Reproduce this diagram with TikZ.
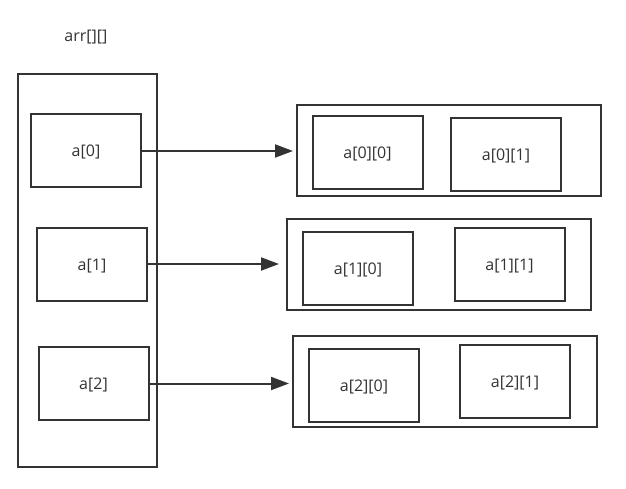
\documentclass[tikz,border=0pt]{standalone}
\usepackage{fontspec}
\setmainfont{Open Sans}
\usepackage{tikz}
\usetikzlibrary {arrows.meta}
\newcommand\cellW{110pt}
\newcommand\cellH{73pt}
\newcommand\rowW{304pt}
\newcommand\rowH{91pt}
\newcommand\lineColor{black!80}
\newcommand\labelSize{\fontsize{16}{18}\selectfont}

\begin{document}
\begin{tikzpicture}[x=1pt, y=-1pt,
        box/.style={draw=\lineColor, line width=2pt, inner sep=0pt},
        cell/.style={box, minimum width=\cellW, minimum height=\cellH, text=black!80, font=\labelSize, text height=14pt, text depth=2pt},
        rowbox/.style={box, minimum width=\rowW, minimum height=\rowH},
        pointer/.style={draw=\lineColor, line width=2pt, -{Triangle[length=18pt, width=13pt]}}]
        \useasboundingbox (0,0) rectangle (626,489);

        \node[text=black!80, font=\labelSize] (title) at (86,37) {arr[][]};
        \node[box, minimum width=139pt, minimum height=393pt] (arr) at (87.5,270.5) {};

        \node[cell] (a0) at (86,151) {a[0]};
        \node[cell] (a1) at (92,264) {a[1]};
        \node[cell] (a2) at (93.5,383.5) {a[2]};

        \node[rowbox] (row0) at (449,151) {};
        \node[cell] (a00) at (367.5,152.5) {a[0][0]};
        \node[cell] (a01) at (506,154.5) {a[0][1]};

        \node[rowbox] (row1) at (439,264.5) {};
        \node[cell] (a10) at (358,268) {a[1][0]};
        \node[cell] (a11) at (509.5,264) {a[1][1]};

        \node[rowbox] (row2) at (445,381.5) {};
        \node[cell] (a20) at (364,385) {a[2][0]};
        \node[cell] (a21) at (515,381) {a[2][1]};

        \draw[pointer, shorten >=3pt] (a0.east) -- (a0.east -| row0.west);
        \draw[pointer, shorten >=7pt] (a1.east) -- (a1.east -| row1.west);
        \draw[pointer, shorten >=3pt] (a2.east) -- (a2.east -| row2.west);

    \end{tikzpicture}
\end{document}
